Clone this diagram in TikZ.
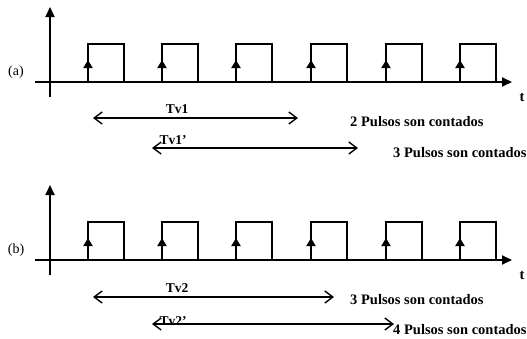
\documentclass[tikz,border=0pt]{standalone}
\usepackage{fontspec}
\setmainfont{Liberation Serif}
\usetikzlibrary{arrows.meta}
\begin{document}
\begin{tikzpicture}[x=1pt,y=-1pt,
  axis/.style={line width=1.8pt,-{Triangle[length=10pt,width=9pt]}},
  pulse/.style={line width=1.8pt},
  edge/.style={line width=1.8pt,-{Triangle[length=8pt,width=9pt]}},
  span/.style={line width=1.4pt,{Straight Barb[length=8pt,width=12pt]}-{Straight Barb[length=8pt,width=12pt]}},
  lbl/.style={font=\fontsize{14.5}{16}\selectfont\bfseries,inner sep=0pt},
  tvl/.style={font=\fontsize{13.5}{16}\selectfont\bfseries,inner sep=0pt},
  plbl/.style={font=\fontsize{14}{16}\selectfont,inner sep=0pt}]
\useasboundingbox (0,0) rectangle (527,338);
\foreach \p/\o/\L in {a/0/(a),b/178/(b)}{
  \coordinate (\p-y0) at (50,97+\o);
  \coordinate (\p-y1) at (50,7+\o);
  \coordinate (\p-x0) at (35,82+\o);
  \coordinate (\p-x1) at (512,82+\o);
  \draw[axis] (\p-y0) -- (\p-y1);
  \draw[axis] (\p-x0) -- (\p-x1);
  \node[plbl] (\p-name) at (16,72+\o) {\L};
  \node[lbl] (\p-t) at (522,97+\o) {t};
  \foreach \x [count=\i] in {88,162,236,311,386,460}{
    \coordinate (\p-e\i) at (\x,81+\o);
    \coordinate (\p-m\i) at (\x,60+\o);
    \draw[edge] (\p-e\i) -- (\p-m\i);
    \draw[pulse] (\p-e\i) -- (\x,44+\o) -- (\x+36,44+\o) -- (\x+36,81+\o);
  }
}
% panel a spans
\coordinate (a-s1l) at (93,118); \coordinate (a-s1r) at (298,118);
\draw[span] (a-s1l) -- (a-s1r);
\node[tvl] (a-tv1) at (177,109) {Tv1};
\node[lbl,anchor=west] (a-c1) at (350,122) {2 Pulsos son contados};
\coordinate (a-s2l) at (152,148); \coordinate (a-s2r) at (358,148);
\draw[span] (a-s2l) -- (a-s2r);
\node[tvl] (a-tv1p) at (173,140) {Tv1’};
\node[lbl,anchor=west] (a-c2) at (393,153) {3 Pulsos son contados};
% panel b spans
\coordinate (b-s1l) at (93,297); \coordinate (b-s1r) at (334,297);
\draw[span] (b-s1l) -- (b-s1r);
\node[tvl] (b-tv2) at (177,288) {Tv2};
\node[lbl,anchor=west] (b-c1) at (350,300) {3 Pulsos son contados};
\coordinate (b-s2l) at (152,324); \coordinate (b-s2r) at (394,324);
\draw[span] (b-s2l) -- (b-s2r);
\node[tvl] (b-tv2p) at (173,321) {Tv2’};
\node[lbl,anchor=west] (b-c2) at (393,330) {4 Pulsos son contados};
\end{tikzpicture}
\end{document}
